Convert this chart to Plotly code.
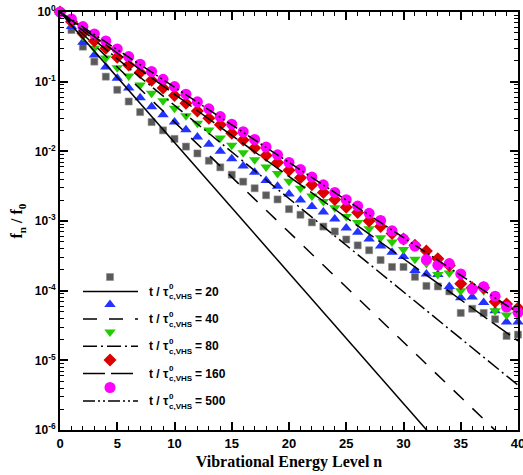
import plotly.graph_objects as go

n_levels = list(range(41))

f_t20 = [1, 0.552, 0.318, 0.194, 0.118, 0.0764, 0.0519, 0.0366, 0.0263, 0.0200,
         0.0151, 0.0117, 0.00933, 0.00733, 0.00589, 0.00462, 0.00367, 0.00295, 0.00234, 0.00204,
         0.00148, 0.00123, 0.000955, 0.000832, 0.000708, 0.000543, 0.000447, 0.000380, 0.000275, 0.000219,
         0.000219, 0.000158, 0.000117, 0.000115, 0.0000977, 0.0000479, 0.0000550, 0.0000479, 0.0000389, 0.0000224,
         0.0000234]
f_t40 = [1, 0.617, 0.367, 0.242, 0.162, 0.112, 0.0813, 0.0589, 0.0437, 0.0335,
         0.0263, 0.0204, 0.0160, 0.0126, 0.0100, 0.00783, 0.00617, 0.00501, 0.00380, 0.00316,
         0.00245, 0.00200, 0.00162, 0.00135, 0.00107, 0.000794, 0.000692, 0.000550, 0.000437, 0.000355,
         0.000309, 0.000195, 0.000174, 0.000170, 0.000115, 0.0000794, 0.0000813, 0.0000676, 0.0000513, 0.0000355,
         0.0000355]
f_t80 = [1, 0.692, 0.447, 0.302, 0.219, 0.158, 0.121, 0.0899, 0.0684, 0.0531,
         0.0417, 0.0324, 0.0254, 0.0202, 0.0155, 0.0122, 0.00955, 0.00759, 0.00596, 0.00479,
         0.00372, 0.00295, 0.00229, 0.00191, 0.00155, 0.00116, 0.000955, 0.000776, 0.000575, 0.000501,
         0.000389, 0.000282, 0.000245, 0.000170, 0.000180, 0.000100, 0.000102, 0.000100, 0.0000513, 0.0000447,
         0.0000447]
f_t160 = [1, 0.724, 0.495, 0.385, 0.302, 0.224, 0.174, 0.135, 0.105, 0.0813,
          0.0631, 0.0490, 0.0380, 0.0299, 0.0240, 0.0182, 0.0145, 0.0112, 0.00871, 0.00692,
          0.00537, 0.00417, 0.00331, 0.00257, 0.00204, 0.00158, 0.00132, 0.00100, 0.000832, 0.000661,
          0.000550, 0.000447, 0.000372, 0.000288, 0.000229, 0.000126, 0.000110, 0.000110, 0.0000692, 0.0000646,
          0.0000562]
f_t500 = [1, 0.794, 0.617, 0.484, 0.385, 0.295, 0.229, 0.178, 0.140, 0.108,
          0.0851, 0.0661, 0.0513, 0.0407, 0.0316, 0.0245, 0.0191, 0.0148, 0.0115, 0.00891,
          0.00692, 0.00550, 0.00427, 0.00331, 0.00257, 0.00202, 0.00164, 0.00129, 0.00102, 0.000724,
          0.000550, 0.000437, 0.000279, 0.000232, 0.000245, 0.000174, 0.000105, 0.000114, 0.0000832, 0.0000582,
          0.0000490]

# Boltzmann fit lines: values at n = 0 and n = 40
line_n = [0, 40]
fit_t20 = [1, 3.2e-8]
fit_t40 = [1, 4.8e-7]
fit_t80 = [1, 4.4e-6]
fit_t160 = [1, 1.9e-5]
fit_t500 = [1, 4.8e-5]

times = ["20", "40", "80", "160", "500"]
y_tickvals = [1e-6, 1e-5, 1e-4, 1e-3, 1e-2, 1e-1, 1]
y_ticktext = ["10<sup>-6</sup>", "10<sup>-5</sup>", "10<sup>-4</sup>", "10<sup>-3</sup>",
              "10<sup>-2</sup>", "10<sup>-1</sup>", "10<sup>0</sup>"]
x_tickvals = [0, 5, 10, 15, 20, 25, 30, 35, 40]

series = [f_t20, f_t40, f_t80, f_t160, f_t500]
fits = [fit_t20, fit_t40, fit_t80, fit_t160, fit_t500]
markers = [
    dict(symbol="square", size=7, color="#5a5a5a", line=dict(width=0.6, color="#8a8a8a")),
    dict(symbol="triangle-up", size=10, color="#2233ff", line=dict(width=0)),
    dict(symbol="triangle-down", size=10, color="#22cc00", line=dict(width=0)),
    dict(symbol="diamond", size=10, color="#dd0000", line=dict(width=0)),
    dict(symbol="circle", size=11, color="#ff00ff", line=dict(width=0)),
]
dashes = ["solid", "14px,12px", "14px,4px,2px,4px", "22px,6px", "12px,3px,2px,3px,2px,3px"]

fig = go.Figure()
for s, m in zip(series, markers):
    fig.add_trace(go.Scatter(x=n_levels, y=s, mode="markers", marker=m,
                             cliponaxis=False, showlegend=False))
for fl, d in zip(fits, dashes):
    fig.add_trace(go.Scatter(x=line_n, y=fl, mode="lines",
                             line=dict(color="black", width=1.5, dash=d), showlegend=False))

# legend (drawn in a pixel-like overlay axis)
marker_rows = [277, 304.5, 332, 360, 387.5]
line_rows = [291.5, 319, 346.2, 373.5, 401]
annotations = []
for i in range(5):
    fig.add_trace(go.Scatter(x=[110], y=[marker_rows[i]], mode="markers", marker=markers[i],
                             xaxis="x2", yaxis="y2", showlegend=False))
    fig.add_trace(go.Scatter(x=[83, 138], y=[line_rows[i]] * 2, mode="lines",
                             line=dict(color="black", width=1.5, dash=dashes[i]),
                             xaxis="x2", yaxis="y2", showlegend=False))
    ly = line_rows[i]
    lf = dict(family="Liberation Sans, Arial", size=12, color="black", weight="bold")
    sf = dict(family="Liberation Sans, Arial", size=8, color="black", weight="bold")
    annotations += [
        dict(x=147, y=ly, xref="x2", yref="y2", text="t / τ", showarrow=False,
             xanchor="left", yanchor="middle", font=lf),
        dict(x=166.5, y=ly - 5, xref="x2", yref="y2", text="0", showarrow=False,
             xanchor="left", yanchor="middle", font=sf),
        dict(x=166.5, y=ly + 5, xref="x2", yref="y2", text="c,VHS", showarrow=False,
             xanchor="left", yanchor="middle", font=sf),
        dict(x=193, y=ly, xref="x2", yref="y2", text="= " + times[i], showarrow=False,
             xanchor="left", yanchor="middle", font=lf),
    ]

minor_y = [k * 10.0 ** e for e in range(-6, 0) for k in range(2, 10)]

fig.update_layout(
    width=523, height=475,
    margin=dict(l=60, r=5, t=12, b=45),
    paper_bgcolor="white", plot_bgcolor="white",
    showlegend=False,
    annotations=annotations,
    xaxis=dict(range=[0, 40], tickvals=x_tickvals, ticks="inside", ticklen=8, tickwidth=2,
               tickcolor="black", showline=True, linewidth=2, linecolor="black", mirror="ticks",
               showgrid=False, zeroline=False, ticklabeloverflow="allow", automargin=False,
               minor=dict(dtick=1, ticks="inside", ticklen=4, tickwidth=1, tickcolor="black", showgrid=False),
               tickfont=dict(family="Liberation Sans, Arial", size=13, color="black", weight="bold"),
               title=dict(text="Vibrational Energy Level n", standoff=6,
                          font=dict(family="Liberation Serif, Times New Roman", size=16,
                                    color="black", weight="bold"))),
    yaxis=dict(type="log", range=[-6, 0], tickvals=y_tickvals, ticktext=y_ticktext,
               ticks="inside", ticklen=8, tickwidth=2, tickcolor="black",
               showline=True, linewidth=2, linecolor="black", mirror="ticks",
               showgrid=False, zeroline=False, automargin=False,
               minor=dict(tickvals=minor_y, ticks="inside", ticklen=4, tickwidth=1,
                          tickcolor="black", showgrid=False),
               tickfont=dict(family="Liberation Sans, Arial", size=12, color="black", weight="bold"),
               title=dict(text="f<sub>n</sub> / f<sub>0</sub>", standoff=8,
                          font=dict(family="Liberation Serif, Times New Roman", size=16,
                                    color="black", weight="bold"))),
    xaxis2=dict(range=[60, 518], overlaying="x", visible=False, fixedrange=True),
    yaxis2=dict(range=[430, 12], overlaying="y", visible=False, fixedrange=True),
)

fig.write_html("out.html", config={"displayModeBar": False},
               post_script="document.body.style.margin='0px';")
